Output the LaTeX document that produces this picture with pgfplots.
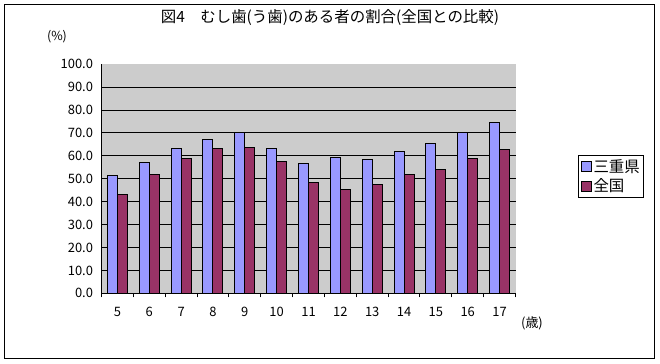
\documentclass[border=0pt]{standalone}
\usepackage{fontspec}
\setmainfont{Noto Sans CJK JP}
\usepackage{pgfplots}
\pgfplotsset{compat=1.18}
\definecolor{miec}{HTML}{9999FF}
\definecolor{zenc}{HTML}{993366}
\definecolor{bgc}{HTML}{CCCCCC}
\begin{document}
\begin{tikzpicture}[x=1bp,y=1bp]
\useasboundingbox (0,0) rectangle (660,363);
\draw[line width=1bp] (4,5) rectangle (654,358);
\node[font=\fontsize{15.5}{15.5}\selectfont] at (330,345) {図4　むし歯(う歯)のある者の割合(全国との比較)};
\node[font=\fontsize{12.5}{12.5}\selectfont] at (57,326) {(\%)};
\node[font=\fontsize{13}{13}\selectfont] at (532,40) {(歳)};
\begin{axis}[at={(101.5bp,69.7bp)}, anchor=south west, scale only axis,
  width=414bp, height=229bp,
  ybar=0pt, bar width=10bp,
  xmin=-0.5, xmax=12.5, ymin=0, ymax=100,
  axis background/.style={fill=bgc},
  axis x line*=bottom, axis y line*=left,
  axis line style={-, line width=1bp},
  xtick={0,...,12}, xticklabels={5,6,7,8,9,10,11,12,13,14,15,16,17},
  major x tick style={draw=none},
  minor xtick={-0.5,0.5,...,12.5},
  minor x tick style={black, line width=1bp}, minor tick length=4bp,
  ytick={0,10,...,90}, extra y ticks={100},
  extra y tick style={grid=none, major y tick style={draw=none}},
  ymajorgrids, grid style={black, line width=1bp},
  major y tick style={draw=none},
  tick label style={font=\fontsize{13}{13}\selectfont},
  yticklabel style={xshift=-5bp, /pgf/number format/.cd, fixed, fixed zerofill, precision=1, assume math mode=true},
  xticklabel style={yshift=-6bp},
  legend style={at={(1.151,0.604)}, anchor=north west, draw=black, line width=1bp,
    font=\fontsize{15.5}{15.5}\selectfont, row sep=1bp, inner sep=2bp},
  legend cell align=left,
  legend image code/.code={\draw[#1, draw=black, line width=1bp] (0bp,-5bp) rectangle (10bp,5bp);},
]
\addplot[fill=miec, draw=black, line width=1bp] coordinates {
(0,51.5) (1,57.2) (2,63.3) (3,67.2) (4,70.1) (5,63.3) (6,56.8) (7,59.4) (8,58.5) (9,62.0) (10,65.5) (11,70.0) (12,74.8)};
\addplot[fill=zenc, draw=black, line width=1bp] coordinates {
(0,43.2) (1,52.0) (2,59.0) (3,63.3) (4,63.8) (5,57.6) (6,48.5) (7,45.4) (8,47.6) (9,52.0) (10,54.1) (11,59.0) (12,62.6)};
\legend{三重県,全国}
\end{axis}
\end{tikzpicture}
\end{document}
